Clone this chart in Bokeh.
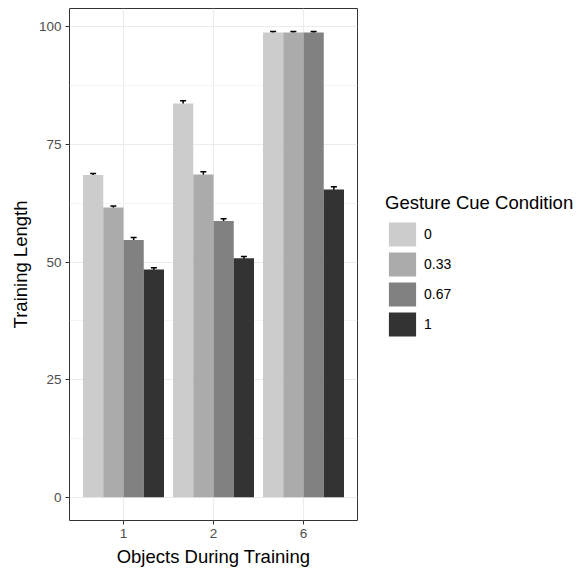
from bokeh.plotting import figure
from bokeh.models import (ColumnDataSource, Range1d, FixedTicker, Legend, LegendItem,
                          Whisker, TeeHead)
from bokeh.transform import dodge
from bokeh.embed import file_html
from bokeh.resources import INLINE

# ---- data ----
objects = ["1", "2", "6"]
conditions = ["0", "0.33", "0.67", "1"]
cond0 = [68.5, 83.7, 98.8]
cond033 = [61.6, 68.6, 98.8]
cond067 = [54.7, 58.7, 98.8]
cond1 = [48.4, 50.8, 65.4]
err0 = [0.3, 0.6, 0.2]
err033 = [0.3, 0.6, 0.2]
err067 = [0.5, 0.5, 0.2]
err1 = [0.4, 0.4, 0.6]
colors = ["#CCCCCC", "#ABABAB", "#818181", "#333333"]
y_ticks = [0, 25, 50, 75, 100]

series = [cond0, cond033, cond067, cond1]
errors = [err0, err033, err067, err1]
xpos = [i + 1 for i in range(len(objects))]

FONT = "Liberation Sans"

p = figure(frame_width=288, frame_height=512, output_backend="svg", toolbar_location=None,
           x_range=Range1d(0.4, 3.6), y_range=Range1d(-4.95, 103.9),
           min_border_left=69, min_border_right=221, min_border_top=8, min_border_bottom=49)

bar_w = 0.225
offsets = [-1.5 * bar_w, -0.5 * bar_w, 0.5 * bar_w, 1.5 * bar_w]
items = []
for cond, vals, errs, col, off in zip(conditions, series, errors, colors, offsets):
    src = ColumnDataSource(dict(x=xpos, top=vals,
                                lower=[v - e for v, e in zip(vals, errs)],
                                upper=[v + e for v, e in zip(vals, errs)]))
    r = p.vbar(x=dodge("x", off, range=p.x_range), top="top", bottom=0, width=bar_w,
               source=src, fill_color=col, line_color=None)
    items.append(LegendItem(label=cond, renderers=[r]))
    w = Whisker(base=dodge("x", off, range=p.x_range), lower="lower", upper="upper",
                source=src, line_color="black", line_width=1.5,
                upper_head=TeeHead(size=6, line_color="black", line_width=1.5),
                lower_head=TeeHead(size=6, line_color="black", line_width=1.5))
    p.add_layout(w)

# axes
p.xaxis.ticker = FixedTicker(ticks=xpos)
p.xaxis.major_label_overrides = {x: o for x, o in zip(xpos, objects)}
p.yaxis.ticker = FixedTicker(ticks=y_ticks, minor_ticks=[12.5, 37.5, 62.5, 87.5])
p.xaxis.axis_label = "Objects During Training"
p.yaxis.axis_label = "Training Length"
for ax in (p.xaxis, p.yaxis):
    ax.axis_line_color = None
    ax.major_tick_line_color = "#333333"
    ax.major_tick_in = 0
    ax.major_tick_out = 4
    ax.minor_tick_line_color = None
    ax.major_label_text_font = FONT
    ax.major_label_text_font_size = "13.5px"
    ax.major_label_text_color = "#4D4D4D"
    ax.axis_label_text_font = FONT
    ax.axis_label_text_font_size = "18.5px"
    ax.axis_label_text_font_style = "normal"
    ax.axis_label_text_color = "black"
    ax.major_label_standoff = 4
    ax.axis_label_standoff = 5

p.xgrid.ticker = FixedTicker(ticks=xpos)
p.grid.grid_line_color = "#EBEBEB"
p.grid.grid_line_width = 1
p.ygrid.minor_grid_line_color = "#F4F4F4"
p.ygrid.minor_grid_line_width = 1
p.outline_line_color = "#333333"
p.outline_line_width = 1
p.background_fill_color = "white"
p.border_fill_color = "white"

legend = Legend(items=items, location=(28, 181), title="Gesture Cue Condition",
                title_text_font=FONT, title_text_font_size="18.5px", title_text_color="black",
                title_text_font_style="normal", title_standoff=5,
                label_text_font=FONT, label_text_font_size="14px", label_text_color="black",
                glyph_width=34, glyph_height=30, label_height=30, label_standoff=5,
                spacing=0, padding=0, margin=0, border_line_color=None,
                background_fill_alpha=0)
p.add_layout(legend, "right")

open("out.html", "w").write(file_html(p, INLINE))
